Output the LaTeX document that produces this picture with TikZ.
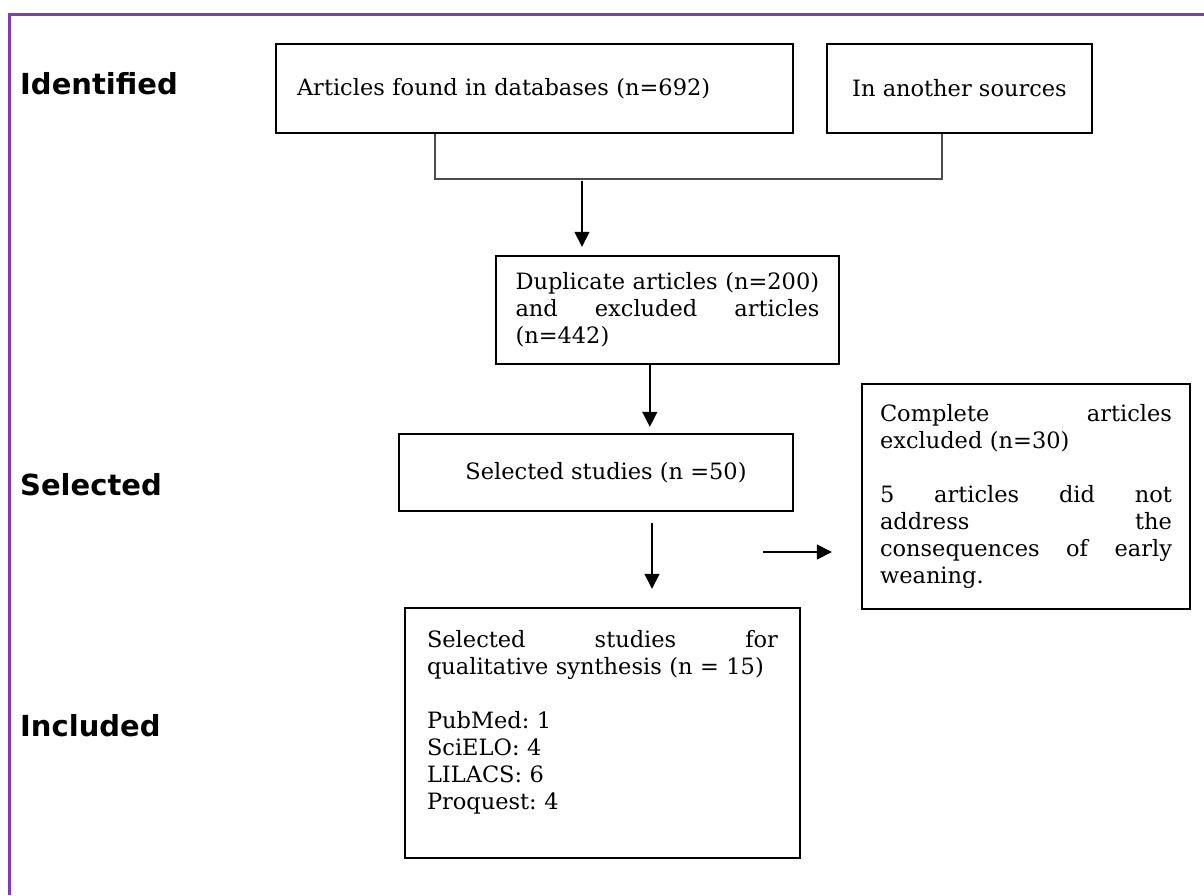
\documentclass[tikz,border=0pt]{standalone}
\usepackage{fontspec}
\setmainfont{DejaVu Serif}
\newfontfamily\stagefont{DejaVu Sans}
\usepackage{tikz}
\usetikzlibrary{arrows.meta}
\definecolor{framepurple}{RGB}{125,60,185}
\newcommand{\stage}[1]{{\stagefont\bfseries #1}}
\frenchspacing

\begin{document}
\begin{tikzpicture}[x=1pt,y=-1pt,
    box/.style={draw,line width=2.4pt,font=\fontsize{22.5pt}{27pt}\selectfont,inner ysep=0pt},
    flowarrow/.style={-{Triangle[length=15pt,width=15pt]},line width=1.4pt},
    joinline/.style={line width=1.6pt,draw=black!70},
    stagelabel/.style={anchor=base west,inner sep=0pt,font=\fontsize{29pt}{34pt}\selectfont}]
    \useasboundingbox (0,0) rectangle (1204,895);
    \draw[framepurple,line width=3pt] (1204,14) -- (9,14) -- (9,895);

    %% stages
    \node (identified) at (20,94) [stagelabel]{\stage{Identified}};
    \node (selected) at (20,495) [stagelabel]{\stage{Selected}};
    \node (included) at (20,736) [stagelabel]{\stage{Included}};

    %% boxes
    \node (found) at (534.5,88.5) [box,text width=475pt,inner xsep=21pt,minimum height=89pt,align=left]{
      Articles found in databases (n=692)
    };
    \node (other) at (959.5,88.5) [box,minimum width=265pt,minimum height=89pt]{
      In another sources
    };
    \node (dup) at (667.5,310) [box,text width=304pt,inner xsep=19.5pt,minimum height=108pt,align=left]{
      Duplicate articles (n=200)\\
      and\hfill excluded\hfill articles\\
      (n=442)
    };
    \node (studies) at (596,472.5) [box,minimum width=394pt,minimum height=77pt]{
      \hspace*{20pt}Selected studies (n =50)
    };
    \node (synth) at (602.5,733) [box,text width=351pt,inner xsep=22pt,minimum height=250pt,align=left]{
      Selected\hfill studies\hfill for\\
      qualitative synthesis (n = 15)\\[27pt]
      PubMed: 1\\
      SciELO: 4\\
      LILACS: 6\\
      Proquest: 4\\
      \mbox{}
    };
    \node (excl) at (1026,496.5) [box,text width=292pt,inner xsep=18pt,minimum height=225pt,align=left]{
      Complete\hfill articles\\
      excluded (n=30)\\[27pt]
      5\hfill articles\hfill did\hfill not\\
      address\hfill the\\
      consequences\hfill of\hfill early\\
      weaning.
    };

    %% connectors
    \draw[joinline] ([xshift=160pt]found.south west) -- ++(0,45) -| ([xshift=116pt]other.south west);
    \coordinate (merge) at (582,181);
    \draw[flowarrow,shorten >=8pt] (merge) -- (merge |- dup.north);
    \draw[flowarrow,shorten >=6pt] ([xshift=155pt]dup.south west) -- ([xshift=155pt]dup.south west |- studies.north);
    \coordinate (down) at (652,523);
    \draw[flowarrow,shorten >=18pt] (down) -- (down |- synth.north);
    \coordinate (side) at (763,552);
    \draw[flowarrow,shorten >=29pt] (side) -- (side -| excl.west);
\end{tikzpicture}
\end{document}
